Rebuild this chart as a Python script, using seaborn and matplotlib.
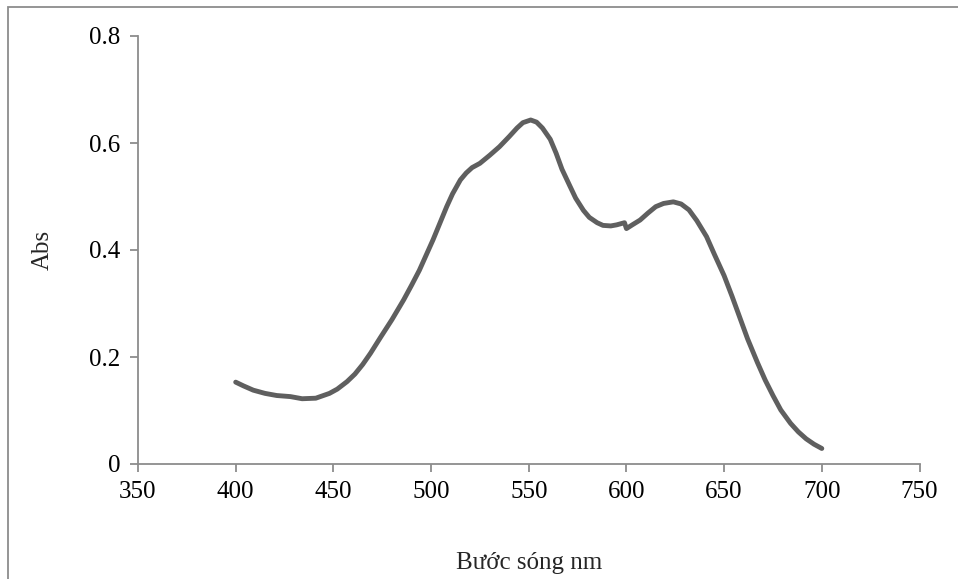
import seaborn as sns
import pandas as pd
import matplotlib.pyplot as plt
from matplotlib.patches import Rectangle
from matplotlib.ticker import FuncFormatter

# values
wavelength = [400, 404, 409, 415, 421, 428, 434, 441, 448, 452, 457, 461, 465, 469, 474,
              480, 486, 490, 494, 501, 508, 511, 515, 518, 521, 525, 530, 535, 540, 544,
              547, 551, 554, 557, 561, 564, 567, 571, 574, 578, 581, 585, 588, 592, 595,
              599, 600, 603, 607, 611, 615, 619, 624, 628, 632, 636, 641, 645, 650, 654,
              658, 662, 667, 671, 675, 679, 684, 688, 692, 696, 700]
absorb = [0.153, 0.146, 0.138, 0.132, 0.128, 0.126, 0.122, 0.123, 0.132, 0.140, 0.154, 0.168,
          0.186, 0.207, 0.236, 0.270, 0.307, 0.334, 0.362, 0.419, 0.481, 0.505, 0.531, 0.544,
          0.554, 0.562, 0.577, 0.593, 0.612, 0.628, 0.638, 0.643, 0.639, 0.628, 0.607, 0.581,
          0.551, 0.520, 0.497, 0.474, 0.461, 0.451, 0.446, 0.445, 0.447, 0.451, 0.440, 0.447,
          0.456, 0.469, 0.481, 0.487, 0.490, 0.486, 0.475, 0.455, 0.425, 0.392, 0.352, 0.314,
          0.274, 0.234, 0.190, 0.157, 0.128, 0.101, 0.076, 0.060, 0.047, 0.037, 0.029]

df = pd.DataFrame({"Bước sóng nm": wavelength, "Abs": absorb})

sns.set_theme(style="white")
plt.rcParams['font.family'] = ['Liberation Serif', 'DejaVu Serif']

fig = plt.figure(figsize=(9.58, 5.79), dpi=100)
ax = fig.add_axes([138/958, 1-464/579, (919.5-138)/958, (464-36)/579])

sns.lineplot(data=df, x="Bước sóng nm", y="Abs", ax=ax, sort=False,
             color="#5f5f5f", linewidth=3.5, solid_joinstyle="round", solid_capstyle="round")

ax.set_xlim(350, 750)
ax.set_ylim(0, 0.8)
ax.set_xticks([350, 400, 450, 500, 550, 600, 650, 700, 750])
ax.set_yticks([0, 0.2, 0.4, 0.6, 0.8])
ax.yaxis.set_major_formatter(FuncFormatter(lambda v, p: "0" if v == 0 else f"{v:.1f}"))

gray = "#8c8c8c"
for s in ["top", "right"]:
    ax.spines[s].set_visible(False)
for s in ["left", "bottom"]:
    ax.spines[s].set_color(gray)
    ax.spines[s].set_linewidth(1.3)
ax.tick_params(axis="both", which="major", direction="out", length=5.5, width=1.3,
               color=gray, labelsize=18, labelcolor="black", pad=7,
               bottom=True, left=True)

ax.set_xlabel("Bước sóng nm", fontsize=18, labelpad=35)
ax.set_ylabel("Abs", fontsize=18, labelpad=26)

# outer chart border
fig.patches.append(Rectangle((8/958, -0.05), 1.2, 1.05 - 7/579, transform=fig.transFigure,
                             fill=False, edgecolor=gray, linewidth=1.3))

plt.savefig("out.png", dpi=100)
